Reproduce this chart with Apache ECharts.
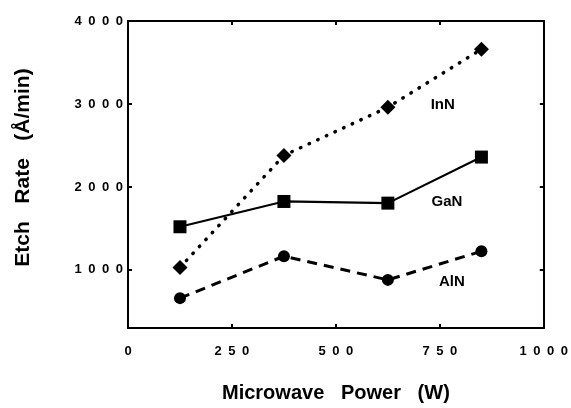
<!DOCTYPE html>
<html>
<head>
<meta charset="utf-8">
<script src="https://cdn.jsdelivr.net/npm/echarts@6/dist/echarts.min.js"></script>
<style>
html, body { margin: 0; padding: 0; background: #fff; }
#chart { width: 571px; height: 408px; }
</style>
</head>
<body>
<div id="chart"></div>
<script>
// microwave power (W)
const power = [125, 375, 625, 850];
// etch rates (Å/min)
const innRate = [1030, 2380, 2960, 3660];
const ganRate = [1520, 1825, 1805, 2360];
const alnRate = [660, 1165, 880, 1225];
const xTicks = [0, 250, 500, 750, 1000];
const yTicks = [1000, 2000, 3000, 4000];
// where the series names sit, in data units
const names = ["InN", "GaN", "AlN"];
const nameAt = [[757, 2990], [767, 1823], [779, 855]];

const font = "Liberation Sans, Arial, sans-serif";
const spaced = v => String(v).split("").join("\u2002");

const pairs = ys => power.map((x, i) => [x, ys[i]]);

const axisBase = {
    type: "value",
    axisLine: { show: true, onZero: false, lineStyle: { color: "#000", width: 2 } },
    splitLine: { show: false },
    axisTick: { show: true, inside: true, length: 4, lineStyle: { color: "#000", width: 2 } },
};

const chart = echarts.init(document.getElementById("chart"));
const option = {
    animation: false,
    backgroundColor: "#fff",
    grid: { left: 128, right: 27, top: 21, bottom: 74 },
    xAxis: [
        {
            ...axisBase,
            position: "bottom",
            min: 0, max: 1000,
            axisTick: { ...axisBase.axisTick, customValues: xTicks },
            axisLabel: {
                customValues: xTicks,
                formatter: spaced,
                margin: 17,
                color: "#000", fontWeight: "bold", fontSize: 13, fontFamily: font,
            },
            name: "Microwave   Power   (W)",
            nameLocation: "middle",
            nameGap: 55,
            nameTextStyle: { color: "#000", fontWeight: "bold", fontSize: 20, fontFamily: font },
        },
        {
            ...axisBase,
            position: "top",
            min: 0, max: 1000,
            axisTick: { ...axisBase.axisTick, customValues: xTicks },
            axisLabel: { show: false },
        },
    ],
    yAxis: [
        {
            ...axisBase,
            position: "left",
            min: 300, max: 4000,
            axisTick: { ...axisBase.axisTick, customValues: yTicks },
            axisLabel: {
                customValues: yTicks,
                formatter: spaced,
                margin: 5,
                color: "#000", fontWeight: "bold", fontSize: 13, fontFamily: font,
            },
            name: "Etch   Rate   (Å/min)",
            nameLocation: "middle",
            nameGap: 94,
            nameTextStyle: {
                color: "#000", fontWeight: "bold", fontSize: 21, fontFamily: font,
                padding: [0, 0, 0, 14],
            },
        },
        {
            ...axisBase,
            position: "right",
            min: 300, max: 4000,
            axisTick: { ...axisBase.axisTick, customValues: yTicks },
            axisLabel: { show: false },
        },
    ],
    series: [
        {
            name: "InN", type: "line", data: pairs(innRate),
            symbol: "diamond", symbolSize: 15,
            itemStyle: { color: "#000" },
            lineStyle: { color: "#000", width: 3.5, type: [0.5, 9], cap: "round" },
        },
        {
            name: "GaN", type: "line", data: pairs(ganRate),
            symbol: "rect", symbolSize: 13,
            itemStyle: { color: "#000" },
            lineStyle: { color: "#000", width: 2.2 },
        },
        {
            name: "AlN", type: "line", data: pairs(alnRate),
            symbol: "circle", symbolSize: 12,
            itemStyle: { color: "#000" },
            lineStyle: { color: "#000", width: 3, type: [10, 7] },
        },
    ],
};
chart.setOption(option);

// series names next to their lines
chart.setOption({
    graphic: names.map((n, i) => {
        const p = chart.convertToPixel({ xAxisIndex: 0, yAxisIndex: 0 }, nameAt[i]);
        return {
            type: "text",
            x: p[0], y: p[1],
            style: {
                text: n,
                fill: "#000",
                font: "bold 15px " + font,
                textAlign: "center",
                textVerticalAlign: "middle",
            },
        };
    }),
});
</script>
</body>
</html>
